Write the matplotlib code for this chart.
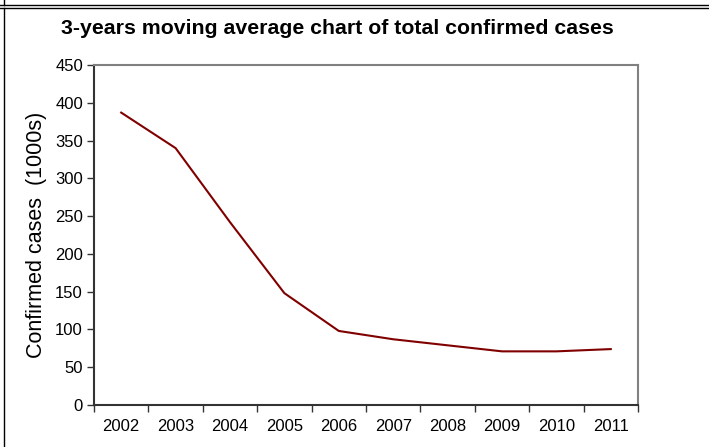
import matplotlib.pyplot as plt
from matplotlib.lines import Line2D

plt.rcParams['font.family'] = ['Liberation Sans', 'DejaVu Sans']

years = ['2002', '2003', '2004', '2005', '2006', '2007', '2008', '2009', '2010', '2011']
cases = [387, 340, 242, 148, 98, 87, 79, 71, 71, 74]

fig = plt.figure(figsize=(7.09, 4.47), dpi=100)
ax = fig.add_axes([94 / 709, 1 - 405 / 447, 544 / 709, 340 / 447])

x = list(range(len(years)))
ax.plot(x, cases, color='#800000', linewidth=1.5)

ax.set_xlim(-0.5, len(years) - 0.5)
ax.set_ylim(0, 450)
ax.set_yticks(range(0, 451, 50))
ax.set_xticks(x)
ax.set_xticklabels(years)
ax.set_xticks([i - 0.5 for i in range(len(years) + 1)], minor=True)
ax.tick_params(axis='x', which='major', length=0, pad=10, labelsize=12)
ax.tick_params(axis='x', which='minor', length=5, width=1, color='#333333')
ax.tick_params(axis='y', length=5, width=1, color='#333333', labelsize=12, pad=3)

for side in ['left', 'bottom']:
    ax.spines[side].set_color('#333333')
    ax.spines[side].set_linewidth(1.5)
for side in ['top', 'right']:
    ax.spines[side].set_color('#808080')
    ax.spines[side].set_linewidth(1.5)

ax.set_ylabel('Confirmed cases  (1000s)', fontsize=15.5)
ax.yaxis.set_label_coords(-0.086, 0.5)
fig.text(337 / 709, 1 - 28 / 447, '3-years moving average chart of total confirmed cases',
         ha='center', va='center', fontsize=15.3, fontweight='bold')

# frame lines around the figure
fig.add_artist(Line2D([0, 1], [1 - 5 / 447, 1 - 5 / 447], color='black', linewidth=1))
fig.add_artist(Line2D([0, 1], [1 - 8 / 447, 1 - 8 / 447], color='black', linewidth=1))
fig.add_artist(Line2D([4 / 709, 4 / 709], [1 - 5 / 447, 1], color='black', linewidth=1))
fig.add_artist(Line2D([4 / 709, 4 / 709], [0, 1 - 8 / 447], color='black', linewidth=1))

fig.savefig('out.png', dpi=100)
